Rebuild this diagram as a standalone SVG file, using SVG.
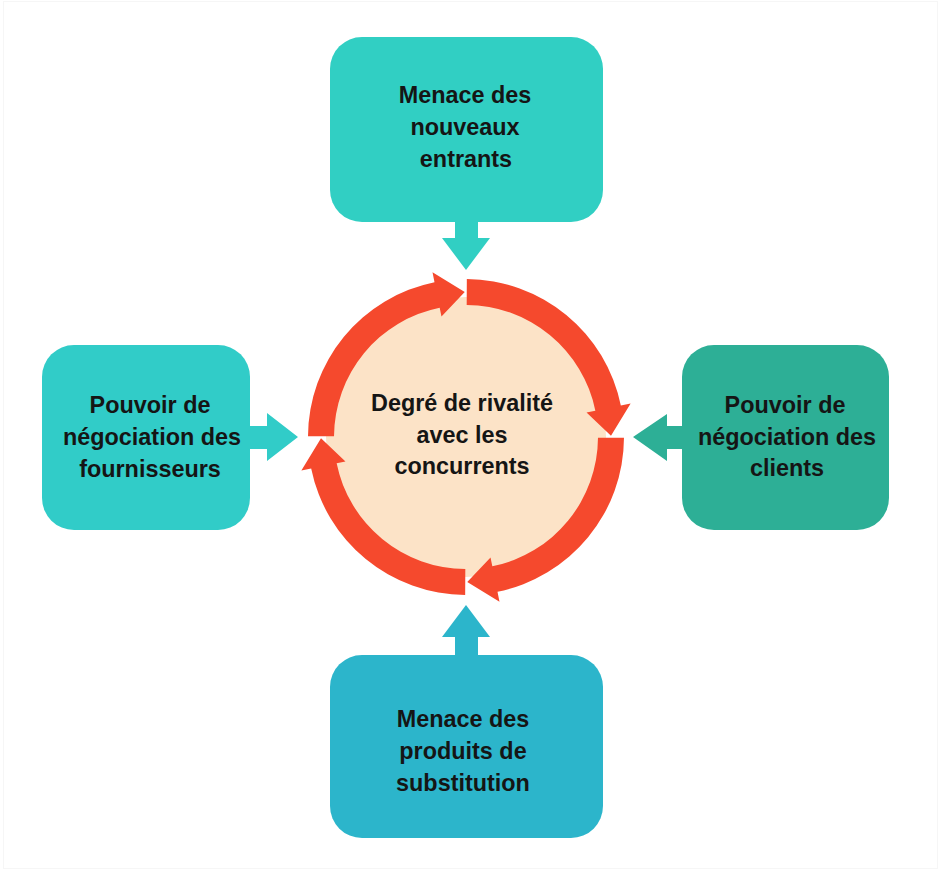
<svg xmlns="http://www.w3.org/2000/svg" xmlns:xlink="http://www.w3.org/1999/xlink" width="942" height="875" viewBox="0 0 942 875">
<style>
.lbl{font-family:"Liberation Sans",Arial,sans-serif;font-weight:bold;font-size:23.4px;fill:#151515;text-anchor:middle}
.ring{fill:#F5492D}
</style>
<defs>
<path id="ringArc" d="M -157.99 -0.83 A 158 158 0 0 1 -31.50 -154.83 L -33.49 -164.63 L -1.27 -144.99 L -24.52 -120.53 L -26.32 -129.35 A 132 132 0 0 0 -131.99 -0.69 Z"/>
</defs>
<rect x="0" y="0" width="942" height="875" fill="#ffffff"/>
<rect x="3.5" y="1.5" width="934" height="867" fill="none" stroke="#f6f6f6" stroke-width="1"/>

<g id="connectors">
<polygon fill="#31CFC3" points="455,220 478,220 478,238 490,238 466,270 442,238 455,238"/>
<polygon fill="#2DAF96" points="684,426 667,426 667,414 633,437 667,461 667,449 684,449"/>
<polygon fill="#31CCC8" points="248,426 267,426 267,413 298,437 267,461 267,449 248,449"/>
<polygon fill="#2CB5CB" points="455,657 478,657 478,637 490,637 466,605 442,637 455,637"/>
</g>

<g id="center">
<circle cx="466" cy="437" r="140" fill="#FCE3C7"/>
<g transform="translate(466 437)" class="ring">
<use xlink:href="#ringArc"/>
<use xlink:href="#ringArc" transform="rotate(90)"/>
<use xlink:href="#ringArc" transform="rotate(180)"/>
<use xlink:href="#ringArc" transform="rotate(270)"/>
</g>
<text class="lbl"><tspan x="462" y="411">Degré de rivalité</tspan><tspan x="462" y="443">avec les</tspan><tspan x="462" y="474">concurrents</tspan></text>
</g>

<g id="top">
<rect x="330" y="37" width="273" height="185" rx="32" fill="#31CFC3"/>
<text class="lbl"><tspan x="465" y="103">Menace des</tspan><tspan x="465" y="135">nouveaux</tspan><tspan x="466" y="167">entrants</tspan></text>
</g>

<g id="left">
<rect x="42" y="345" width="208" height="185" rx="32" fill="#31CCC8"/>
<text class="lbl"><tspan x="150" y="413">Pouvoir de</tspan><tspan x="152" y="445">négociation des</tspan><tspan x="150" y="477">fournisseurs</tspan></text>
</g>

<g id="right">
<rect x="682" y="345" width="207" height="185" rx="32" fill="#2DAF96"/>
<text class="lbl"><tspan x="785" y="413">Pouvoir de</tspan><tspan x="787" y="445">négociation des</tspan><tspan x="787" y="476">clients</tspan></text>
</g>

<g id="bottom">
<rect x="330" y="655" width="273" height="183" rx="32" fill="#2CB5CB"/>
<text class="lbl"><tspan x="463" y="727">Menace des</tspan><tspan x="463" y="759">produits de</tspan><tspan x="463" y="791">substitution</tspan></text>
</g>
</svg>
